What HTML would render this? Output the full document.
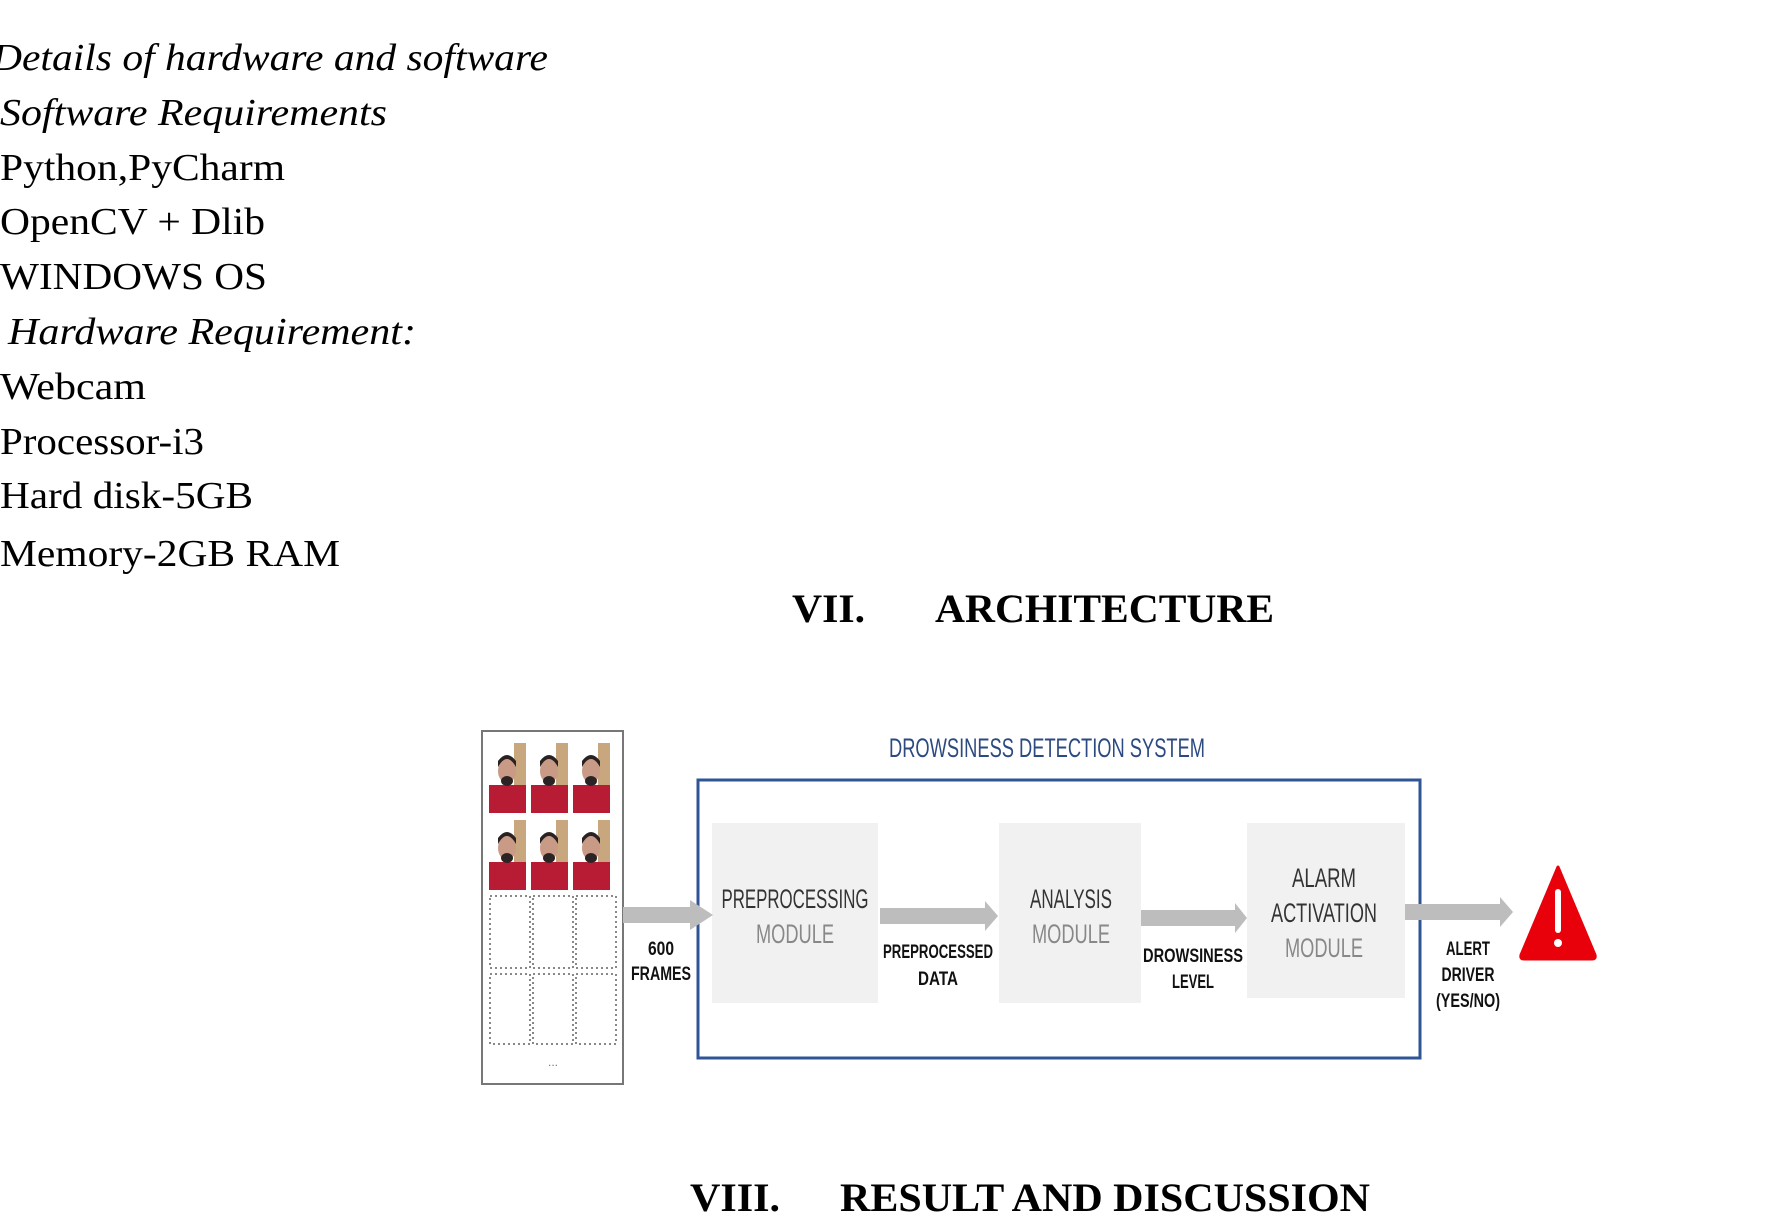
<!DOCTYPE html>
<html><head><meta charset="utf-8"><style>
html,body{margin:0;padding:0;background:#fff;width:1773px;height:1217px;overflow:hidden}
svg{display:block}
.t{font-family:"Liberation Serif",serif;font-size:38px;fill:#000}
.i{font-style:italic}
.h{font-family:"Liberation Serif",serif;font-size:40px;font-weight:bold;fill:#000}
.s{font-family:"Liberation Sans",sans-serif;text-anchor:middle}
.m{font-size:27px;fill:#333}
.g{font-size:27px;fill:#888}
.b{font-size:19px;font-weight:bold;fill:#111}
</style></head><body>
<svg width="1773" height="1217" viewBox="0 0 1773 1217" xmlns="http://www.w3.org/2000/svg">
<defs>
<g id="face">
<rect x="0" y="0" width="37" height="72" fill="#fff"/>
<rect x="25" y="2" width="12" height="50" fill="#c8a77e"/>
<rect x="0" y="44" width="37" height="28" fill="#b81c35"/>
<ellipse cx="18" cy="30" rx="9" ry="12" fill="#c99b86"/>
<path d="M9 26 Q18 10 27 26 L27 20 Q18 8 9 20Z" fill="#2a2222"/>
<ellipse cx="18" cy="40" rx="6" ry="5" fill="#2c2424"/>
</g>
</defs>
<text class="t i" x="-8" y="70" textLength="556" lengthAdjust="spacingAndGlyphs">Details of hardware and software</text>
<text class="t i" x="0" y="125" textLength="387" lengthAdjust="spacingAndGlyphs">Software Requirements</text>
<text class="t" x="0" y="180" textLength="285" lengthAdjust="spacingAndGlyphs">Python,PyCharm</text>
<text class="t" x="0" y="234" textLength="265" lengthAdjust="spacingAndGlyphs">OpenCV + Dlib</text>
<text class="t" x="0" y="289" textLength="267" lengthAdjust="spacingAndGlyphs">WINDOWS OS</text>
<text class="t i" x="8" y="344" textLength="408" lengthAdjust="spacingAndGlyphs">Hardware Requirement:</text>
<text class="t" x="0" y="399" textLength="146" lengthAdjust="spacingAndGlyphs">Webcam</text>
<text class="t" x="0" y="454" textLength="204" lengthAdjust="spacingAndGlyphs">Processor-i3</text>
<text class="t" x="0" y="508" textLength="253" lengthAdjust="spacingAndGlyphs">Hard disk-5GB</text>
<text class="t" x="0" y="566" textLength="340" lengthAdjust="spacingAndGlyphs">Memory-2GB RAM</text>

<text class="h" x="792" y="622" textLength="73" lengthAdjust="spacingAndGlyphs">VII.</text>
<text class="h" x="935" y="622" textLength="339" lengthAdjust="spacingAndGlyphs">ARCHITECTURE</text>
<text class="h" x="690" y="1211" textLength="90" lengthAdjust="spacingAndGlyphs">VIII.</text>
<text class="h" x="840" y="1211" textLength="530" lengthAdjust="spacingAndGlyphs">RESULT AND DISCUSSION</text>

<!-- frames panel -->
<rect x="482" y="731" width="141" height="353" fill="#fff" stroke="#777" stroke-width="2"/>
<use href="#face" x="489" y="741"/><use href="#face" x="531" y="741"/><use href="#face" x="573" y="741"/>
<use href="#face" x="489" y="818"/><use href="#face" x="531" y="818"/><use href="#face" x="573" y="818"/>
<g fill="none" stroke="#888" stroke-width="2" stroke-dasharray="2,3">
<rect x="490" y="896" width="40" height="72"/><rect x="533" y="896" width="40" height="72"/><rect x="576" y="896" width="40" height="72"/>
<rect x="490" y="974" width="40" height="70"/><rect x="533" y="974" width="40" height="70"/><rect x="576" y="974" width="40" height="70"/>
</g>
<text x="553" y="1066" font-family="Liberation Sans" font-size="12" fill="#777" text-anchor="middle">...</text>

<!-- system box -->
<text class="s" x="1047" y="757" font-size="27" fill="#2c4a80" textLength="316" lengthAdjust="spacingAndGlyphs">DROWSINESS DETECTION SYSTEM</text>
<rect x="698" y="780" width="722" height="278" fill="#fff" stroke="#2f5597" stroke-width="3"/>

<rect x="712" y="823" width="166" height="180" fill="#f1f1f1"/>
<rect x="999" y="823" width="142" height="180" fill="#f1f1f1"/>
<rect x="1247" y="823" width="158" height="175" fill="#f1f1f1"/>

<g fill="#bdbdbd">
<path d="M623 907 H690 V900 L713 915 L690 930 V923 H623Z"/>
<path d="M880 908 H985 V901 L998 916 L985 931 V924 H880Z"/>
<path d="M1141 910 H1235 V903 L1247 918 L1235 933 V926 H1141Z"/>
<path d="M1405 904 H1500 V897 L1513 912 L1500 927 V920 H1405Z"/>
</g>

<text class="s m" x="795" y="908" textLength="147" lengthAdjust="spacingAndGlyphs">PREPROCESSING</text>
<text class="s g" x="795" y="943" textLength="78" lengthAdjust="spacingAndGlyphs">MODULE</text>
<text class="s m" x="1071" y="908" textLength="82" lengthAdjust="spacingAndGlyphs">ANALYSIS</text>
<text class="s g" x="1071" y="943" textLength="78" lengthAdjust="spacingAndGlyphs">MODULE</text>
<text class="s m" x="1324" y="887" textLength="64" lengthAdjust="spacingAndGlyphs">ALARM</text>
<text class="s m" x="1324" y="922" textLength="106" lengthAdjust="spacingAndGlyphs">ACTIVATION</text>
<text class="s g" x="1324" y="957" textLength="78" lengthAdjust="spacingAndGlyphs">MODULE</text>

<text class="s b" x="661" y="955" textLength="26" lengthAdjust="spacingAndGlyphs">600</text>
<text class="s b" x="661" y="980" textLength="60" lengthAdjust="spacingAndGlyphs">FRAMES</text>
<text class="s b" x="938" y="958" textLength="110" lengthAdjust="spacingAndGlyphs">PREPROCESSED</text>
<text class="s b" x="938" y="985" textLength="40" lengthAdjust="spacingAndGlyphs">DATA</text>
<text class="s b" x="1193" y="962" textLength="100" lengthAdjust="spacingAndGlyphs">DROWSINESS</text>
<text class="s b" x="1193" y="988" textLength="42" lengthAdjust="spacingAndGlyphs">LEVEL</text>
<text class="s b" x="1468" y="955" textLength="44" lengthAdjust="spacingAndGlyphs">ALERT</text>
<text class="s b" x="1468" y="981" textLength="53" lengthAdjust="spacingAndGlyphs">DRIVER</text>
<text class="s b" x="1468" y="1007" textLength="64" lengthAdjust="spacingAndGlyphs">(YES/NO)</text>

<path d="M1558 867 L1595 955 Q1596 959 1592 959 L1524 959 Q1520 959 1521 955 Z" fill="#e8000b" stroke="#e8000b" stroke-width="3" stroke-linejoin="round"/>
<rect x="1555" y="889" width="6" height="44" rx="3" fill="#fff"/>
<circle cx="1558" cy="943" r="4" fill="#fff"/>
</svg>
</body></html>
